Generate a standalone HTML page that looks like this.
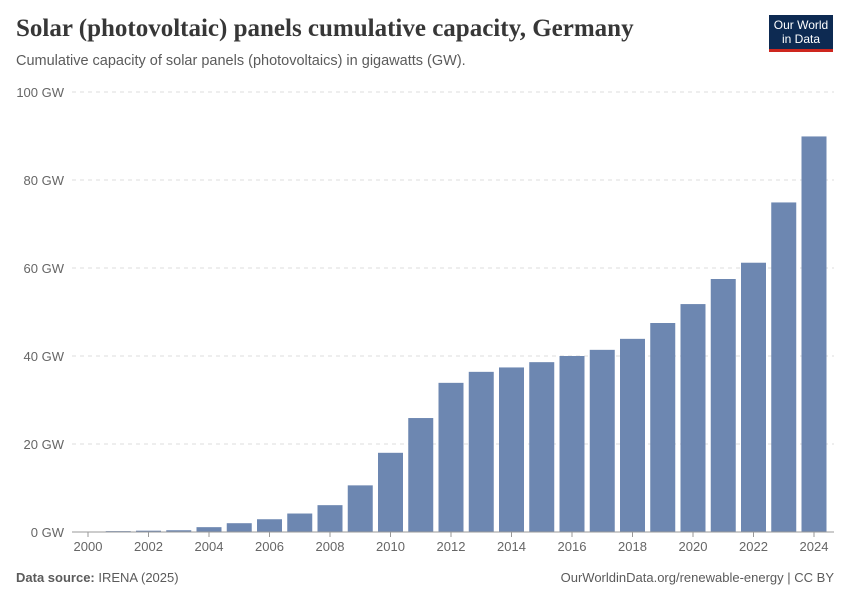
<!DOCTYPE html>
<html><head><meta charset="utf-8"><style>
body{margin:0;background:#fff;font-family:"Liberation Sans",sans-serif;}
#wrap{position:relative;width:850px;height:600px;overflow:hidden;}
.t{position:absolute;white-space:nowrap;}
</style></head><body>
<div id="wrap">
<div class="t" style="left:16px;top:15px;font-family:'Liberation Serif',serif;font-size:25px;font-weight:bold;color:#373737;">Solar (photovoltaic) panels cumulative capacity, Germany</div>
<div class="t" style="left:16px;top:53px;font-size:14.5px;color:#5b5b5b;">Cumulative capacity of solar panels (photovoltaics) in gigawatts (GW).</div>
<div style="position:absolute;left:769px;top:15px;width:64px;height:37px;background:#0d2a52;border-bottom:3px solid #ce261e;color:#fff;font-size:12px;line-height:14px;text-align:center;padding-top:3px;box-sizing:border-box;">Our World<br>in Data</div>
<svg id="chart" width="850" height="600" style="position:absolute;left:0;top:0"></svg>
<div class="t" style="left:16px;top:570px;font-size:13px;color:#5b5b5b;"><b>Data source:</b> IRENA (2025)</div>
<div class="t" style="right:16px;top:570px;font-size:13px;color:#5b5b5b;">OurWorldinData.org/renewable-energy | CC BY</div>
</div>
<script>
const years=[2000,2001,2002,2003,2004,2005,2006,2007,2008,2009,2010,2011,2012,2013,2014,2015,2016,2017,2018,2019,2020,2021,2022,2023,2024];
const values=[0.1,0.2,0.3,0.4,1.1,2.0,2.9,4.2,6.1,10.6,18.0,25.9,33.9,36.4,37.4,38.6,40.0,41.4,43.9,47.5,51.8,57.5,61.2,74.9,89.9];
const yTicks=[0,20,40,60,80,100];
const xTickYears=[2000,2002,2004,2006,2008,2010,2012,2014,2016,2018,2020,2022,2024];
const svg=document.getElementById('chart');const NS='http://www.w3.org/2000/svg';
const y0=532,pxPer=4.4,x0=88,step=30.25,bw=25;
const y=v=>y0-v*pxPer;const x=yr=>x0+(yr-2000)*step;
function mk(t,a){const e=document.createElementNS(NS,t);for(const k in a)e.setAttribute(k,a[k]);svg.appendChild(e);return e;}
yTicks.forEach(v=>{
 if(v>0){const l=mk('line',{x1:72,x2:834,y1:y(v),y2:y(v),stroke:'#ddd','stroke-dasharray':'4,4'});
 
 }
 const t=mk('text',{x:64,y:y(v)+5,'text-anchor':'end','font-size':13,fill:'#666','font-family':'Liberation Sans'});t.textContent=v+' GW';
 
 
});
years.forEach((yr,i)=>{
 const r=mk('rect',{x:x(yr)-bw/2,y:y(values[i]),width:bw,height:values[i]*pxPer,fill:'#6d87b1'});
 
 
});
const ax=mk('line',{x1:72,x2:834,y1:y0,y2:y0,stroke:'#999'});


xTickYears.forEach(yr=>{
 const tk=mk('line',{x1:x(yr),x2:x(yr),y1:y0,y2:y0+5,stroke:'#999'});
 
 
 const t=mk('text',{x:x(yr),y:y0+19,'text-anchor':'middle','font-size':13,fill:'#666','font-family':'Liberation Sans'});t.textContent=yr;
 
 
});
</script>
</body></html>
